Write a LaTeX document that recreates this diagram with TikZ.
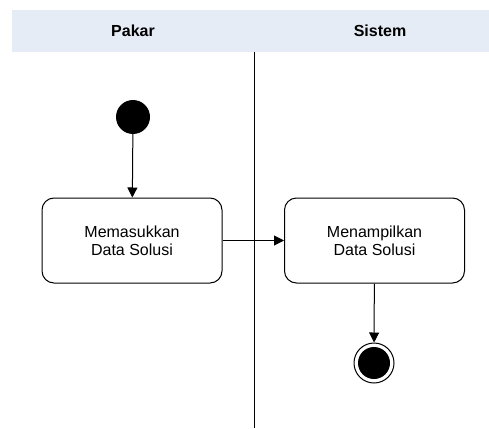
\documentclass[tikz,border=0pt]{standalone}
\usepackage{fontspec}
\setmainfont{Liberation Sans}
\usetikzlibrary{arrows.meta}
\definecolor{lanebg}{RGB}{230,236,246}
\tikzset{
  act/.style={draw, line width=1pt, rounded corners=12pt, minimum width=180pt, minimum height=85pt, align=center, font=\fontsize{16}{18}\selectfont, inner sep=0pt},
  conn/.style={line width=1pt, -{Triangle[length=10pt,width=10pt]}},
  lanehead/.style={font=\bfseries\fontsize{16}{18}\selectfont}
}
\begin{document}
\begin{tikzpicture}[x=1pt,y=-1pt]
\useasboundingbox (0,0) rectangle (489,428);
\fill[lanebg] (12,10) rectangle (489,52);
\node[lanehead] (pakar) at (133,31) {Pakar};
\node[lanehead] (sistem) at (380,31) {Sistem};
\coordinate (divtop) at (254,52);
\coordinate (divbot) at (254,428);
\draw[line width=1pt] (divtop) -- (divbot);
\node[circle, fill=black, minimum size=34pt, inner sep=0pt] (start) at (133,117) {};
\node[act] (a1) at (132,240.5) {Memasukkan\\Data Solusi};
\node[act] (a2) at (374.5,240.5) {Menampilkan\\Data Solusi};
\node[circle, draw, line width=1pt, minimum size=40pt, inner sep=0pt] (end) at (374,363) {};
\node[circle, fill=black, minimum size=32pt, inner sep=0pt] (endin) at (374,363) {};
\draw[conn] (start) -- (a1);
\draw[conn] (a1) -- (a2);
\draw[conn] (a2) -- (end);
\end{tikzpicture}
\end{document}
